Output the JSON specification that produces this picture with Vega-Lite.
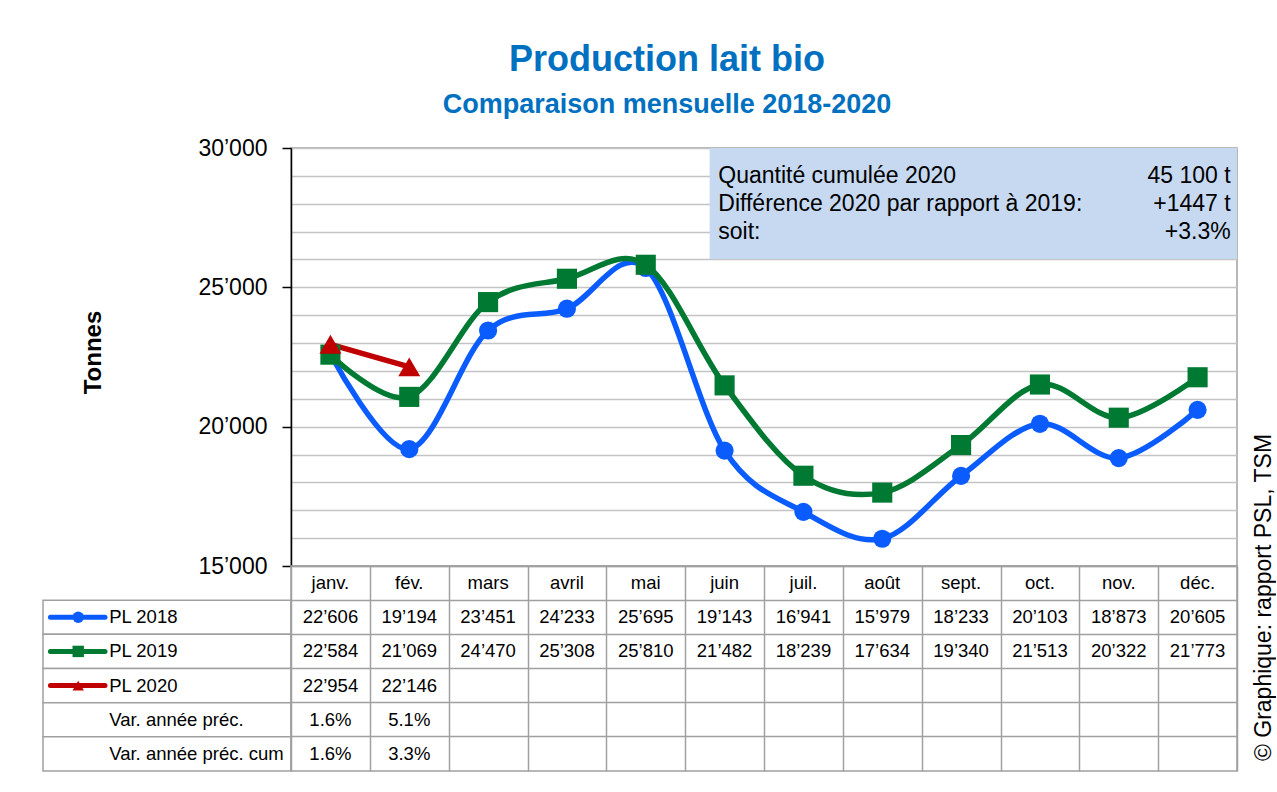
{
  "$schema": "https://vega.github.io/schema/vega-lite/v6.json",
  "padding": {"left": 42, "top": 42, "right": 0, "bottom": 0},
  "background": "white",
  "config": {
    "locale": {"number": {"decimal": ".", "thousands": "’", "grouping": [3], "currency": ["", ""]}},
    "font": "Liberation Sans",
    "view": {"stroke": null}
  },
  "title": {
    "text": "Production lait bio",
    "subtitle": "Comparaison mensuelle 2018-2020",
    "font": "Liberation Sans",
    "fontSize": 36,
    "fontWeight": "bold",
    "color": "#0070C0",
    "subtitleFont": "Liberation Sans",
    "subtitleFontSize": 27,
    "subtitleFontWeight": "bold",
    "subtitleColor": "#0070C0",
    "subtitlePadding": 13,
    "anchor": "middle",
    "dx": 8,
    "offset": 17
  },
  "datasets": {
    "prod": [
      {"serie": "PL 2018", "mois": "janv.", "m": 1, "tonnes": 22606},
      {"serie": "PL 2018", "mois": "fév.", "m": 2, "tonnes": 19194},
      {"serie": "PL 2018", "mois": "mars", "m": 3, "tonnes": 23451},
      {"serie": "PL 2018", "mois": "avril", "m": 4, "tonnes": 24233},
      {"serie": "PL 2018", "mois": "mai", "m": 5, "tonnes": 25695},
      {"serie": "PL 2018", "mois": "juin", "m": 6, "tonnes": 19143},
      {"serie": "PL 2018", "mois": "juil.", "m": 7, "tonnes": 16941},
      {"serie": "PL 2018", "mois": "août", "m": 8, "tonnes": 15979},
      {"serie": "PL 2018", "mois": "sept.", "m": 9, "tonnes": 18233},
      {"serie": "PL 2018", "mois": "oct.", "m": 10, "tonnes": 20103},
      {"serie": "PL 2018", "mois": "nov.", "m": 11, "tonnes": 18873},
      {"serie": "PL 2018", "mois": "déc.", "m": 12, "tonnes": 20605},
      {"serie": "PL 2019", "mois": "janv.", "m": 1, "tonnes": 22584},
      {"serie": "PL 2019", "mois": "fév.", "m": 2, "tonnes": 21069},
      {"serie": "PL 2019", "mois": "mars", "m": 3, "tonnes": 24470},
      {"serie": "PL 2019", "mois": "avril", "m": 4, "tonnes": 25308},
      {"serie": "PL 2019", "mois": "mai", "m": 5, "tonnes": 25810},
      {"serie": "PL 2019", "mois": "juin", "m": 6, "tonnes": 21482},
      {"serie": "PL 2019", "mois": "juil.", "m": 7, "tonnes": 18239},
      {"serie": "PL 2019", "mois": "août", "m": 8, "tonnes": 17634},
      {"serie": "PL 2019", "mois": "sept.", "m": 9, "tonnes": 19340},
      {"serie": "PL 2019", "mois": "oct.", "m": 10, "tonnes": 21513},
      {"serie": "PL 2019", "mois": "nov.", "m": 11, "tonnes": 20322},
      {"serie": "PL 2019", "mois": "déc.", "m": 12, "tonnes": 21773},
      {"serie": "PL 2020", "mois": "janv.", "m": 1, "tonnes": 22954},
      {"serie": "PL 2020", "mois": "fév.", "m": 2, "tonnes": 22146}
    ],
    "var": [
      {"ligne": "Var. année préc.", "mois": "janv.", "m": 1, "pct": 0.016},
      {"ligne": "Var. année préc.", "mois": "fév.", "m": 2, "pct": 0.051},
      {"ligne": "Var. année préc. cum", "mois": "janv.", "m": 1, "pct": 0.016},
      {"ligne": "Var. année préc. cum", "mois": "fév.", "m": 2, "pct": 0.033}
    ]
  },
  "columns": 2,
  "spacing": 0,
  "bounds": "flush",
  "concat": [
    {
      "width": 248,
      "height": 418,
      "data": {"values": [{}]},
      "mark": {"type": "text", "text": ""},
      "encoding": {}
    },
    {
      "width": 946,
      "height": 418,
      "view": {"stroke": "#A0A0A0", "strokeWidth": 1.5},
      "layer": [
        {
          "data": {"name": "prod"},
          "mark": {"type": "line", "interpolate": "cardinal", "tension": 0, "strokeWidth": 5.5},
          "encoding": {
            "x": {"field": "m", "type": "quantitative", "scale": {"domain": [0.5, 12.5], "nice": false, "zero": false}, "axis": null},
            "y": {
              "field": "tonnes", "type": "quantitative",
              "scale": {"domain": [15000, 30000], "nice": false, "zero": false},
              "axis": {
                "title": "Tonnes",
                "titleFontSize": 24, "titleFontWeight": "bold", "titleColor": "#000000",
                "titlePadding": 92, "titleY": 204, "titleAlign": "center",
                "values": [15000, 16000, 17000, 18000, 19000, 20000, 21000, 22000, 23000, 24000, 25000, 26000, 27000, 28000, 29000, 30000],
                "tickCount": 40,
                "labelExpr": "datum.value % 5000 === 0 ? format(datum.value, ',') : ''",
                "labelFontSize": 23, "labelColor": "#000000", "labelPadding": 15,
                "labelOverlap": false,
                "tickSize": 9, "tickWidth": 1.5, "tickColor": "#000000",
                "tickOpacity": {"condition": {"test": "datum.value % 5000 === 0", "value": 1}, "value": 0},
                "domainColor": "#000000", "domainWidth": 1.5,
                "grid": true, "gridColor": "#C4C4C4", "gridWidth": 1.5
              }
            },
            "color": {"field": "serie", "type": "nominal", "scale": {"domain": ["PL 2018", "PL 2019", "PL 2020"], "range": ["#0A5CFF", "#007A33", "#C00000"]}, "legend": null}
          }
        },
        {
          "data": {"name": "prod"},
          "mark": {"type": "point", "filled": true, "opacity": 1},
          "encoding": {
            "x": {"field": "m", "type": "quantitative"},
            "y": {"field": "tonnes", "type": "quantitative"},
            "color": {"field": "serie", "type": "nominal", "legend": null},
            "shape": {"field": "serie", "type": "nominal", "scale": {"domain": ["PL 2018", "PL 2019", "PL 2020"], "range": ["circle", "square", "triangle-up"]}, "legend": null},
            "size": {"field": "serie", "type": "nominal", "scale": {"domain": ["PL 2018", "PL 2019", "PL 2020"], "range": [330, 480, 340]}, "legend": null}
          }
        },
        {
          "data": {"values": [{}]},
          "mark": {"type": "rect", "color": "#C6D9F1"},
          "encoding": {
            "x": {"datum": 5.81, "type": "quantitative"},
            "x2": {"datum": 12.5},
            "y": {"datum": 30000, "type": "quantitative"},
            "y2": {"datum": 26020}
          }
        },
        {
          "data": {"values": [{}]},
          "mark": {"type": "text", "align": "left", "baseline": "alphabetic", "fontSize": 23, "lineHeight": 28, "color": "#000000",
                   "text": ["Quantité cumulée 2020", "Différence 2020 par rapport à 2019:", "soit:"]},
          "encoding": {
            "x": {"datum": 5.92, "type": "quantitative"},
            "y": {"datum": 28744, "type": "quantitative"}
          }
        },
        {
          "data": {"values": [{}]},
          "mark": {"type": "text", "align": "right", "baseline": "alphabetic", "fontSize": 23, "lineHeight": 28, "color": "#000000",
                   "text": ["45 100 t", "+1447 t", "+3.3%"]},
          "encoding": {
            "x": {"datum": 12.42, "type": "quantitative"},
            "y": {"datum": 28744, "type": "quantitative"}
          }
        }
      ]
    },
    {
      "width": 248,
      "height": 205,
      "layer": [
        {
          "data": {"name": "prod"},
          "transform": [{"filter": "datum.mois === 'janv.'"}],
          "mark": {"type": "rect", "fill": "white", "stroke": "#A0A0A0", "strokeWidth": 1.5},
          "encoding": {
            "x": {"datum": 0, "type": "quantitative", "scale": {"domain": [0, 1], "nice": false}, "axis": null},
            "x2": {"datum": 1},
            "y": {"field": "serie", "type": "nominal", "scale": {"type": "band", "domain": ["mois", "PL 2018", "PL 2019", "PL 2020", "Var. année préc.", "Var. année préc. cum"], "paddingInner": 0, "paddingOuter": 0}, "axis": null}
          }
        },
        {
          "data": {"name": "var"},
          "transform": [{"filter": "datum.mois === 'janv.'"}],
          "mark": {"type": "rect", "fill": "white", "stroke": "#A0A0A0", "strokeWidth": 1.5},
          "encoding": {
            "x": {"datum": 0, "type": "quantitative"},
            "x2": {"datum": 1},
            "y": {"field": "ligne", "type": "nominal"}
          }
        },
        {
          "data": {"name": "prod"},
          "transform": [{"filter": "datum.mois === 'janv.'"}],
          "mark": {"type": "rule", "strokeWidth": 5, "strokeCap": "round"},
          "encoding": {
            "x": {"datum": 0.03, "type": "quantitative"},
            "x2": {"datum": 0.25},
            "y": {"field": "serie", "type": "nominal"},
            "color": {"field": "serie", "type": "nominal", "legend": null}
          }
        },
        {
          "data": {"name": "prod"},
          "transform": [{"filter": "datum.mois === 'janv.'"}],
          "mark": {"type": "point", "filled": true, "opacity": 1, "size": 130},
          "encoding": {
            "x": {"datum": 0.142, "type": "quantitative"},
            "y": {"field": "serie", "type": "nominal"},
            "color": {"field": "serie", "type": "nominal", "legend": null},
            "shape": {"field": "serie", "type": "nominal", "legend": null}
          }
        },
        {
          "data": {"name": "prod"},
          "transform": [{"filter": "datum.mois === 'janv.'"}],
          "mark": {"type": "text", "align": "left", "baseline": "middle", "fontSize": 18.5, "color": "#000000"},
          "encoding": {
            "x": {"datum": 0.267, "type": "quantitative"},
            "y": {"field": "serie", "type": "nominal"},
            "text": {"field": "serie"}
          }
        },
        {
          "data": {"name": "var"},
          "transform": [{"filter": "datum.mois === 'janv.'"}],
          "mark": {"type": "text", "align": "left", "baseline": "middle", "fontSize": 18.5, "color": "#000000"},
          "encoding": {
            "x": {"datum": 0.267, "type": "quantitative"},
            "y": {"field": "ligne", "type": "nominal"},
            "text": {"field": "ligne"}
          }
        }
      ]
    },
    {
      "width": 946,
      "height": 205,
      "view": {"stroke": "#A0A0A0", "strokeWidth": 1.5},
      "layer": [
        {
          "data": {"name": "prod"},
          "transform": [{"filter": "datum.serie === 'PL 2018'"}],
          "mark": {"type": "text", "baseline": "middle", "fontSize": 18.5, "color": "#000000"},
          "encoding": {
            "x": {
              "field": "m", "type": "quantitative",
              "scale": {"domain": [0.5, 12.5], "nice": false, "zero": false},
              "axis": {"values": [0.5, 1.5, 2.5, 3.5, 4.5, 5.5, 6.5, 7.5, 8.5, 9.5, 10.5, 11.5, 12.5], "tickCount": 40, "grid": true, "gridColor": "#A0A0A0", "gridWidth": 1.5, "labels": false, "ticks": false, "domain": false, "title": null}
            },
            "y": {
              "datum": "mois", "type": "nominal",
              "scale": {"type": "band", "domain": ["mois", "PL 2018", "PL 2019", "PL 2020", "Var. année préc.", "Var. année préc. cum"], "paddingInner": 0, "paddingOuter": 0},
              "axis": {"orient": "right", "grid": true, "bandPosition": 0, "gridColor": "#A0A0A0", "gridWidth": 1.5, "labels": false, "ticks": false, "domain": false,
                       "title": "© Graphique: rapport PSL, TSM", "titleAngle": 270, "titleFontSize": 23, "titleFontWeight": "normal", "titleColor": "#000000",
                       "titleX": 26, "titleY": 31, "titleAlign": "center", "titleBaseline": "middle"}
            },
            "text": {"field": "mois"}
          }
        },
        {
          "data": {"name": "prod"},
          "mark": {"type": "text", "baseline": "middle", "fontSize": 18.5, "color": "#000000"},
          "encoding": {
            "x": {"field": "m", "type": "quantitative"},
            "y": {"field": "serie", "type": "nominal"},
            "text": {"field": "tonnes", "type": "quantitative", "format": ","}
          }
        },
        {
          "data": {"name": "var"},
          "mark": {"type": "text", "baseline": "middle", "fontSize": 18.5, "color": "#000000"},
          "encoding": {
            "x": {"field": "m", "type": "quantitative"},
            "y": {"field": "ligne", "type": "nominal"},
            "text": {"field": "pct", "type": "quantitative", "format": ".1%"}
          }
        }
      ]
    }
  ]
}
